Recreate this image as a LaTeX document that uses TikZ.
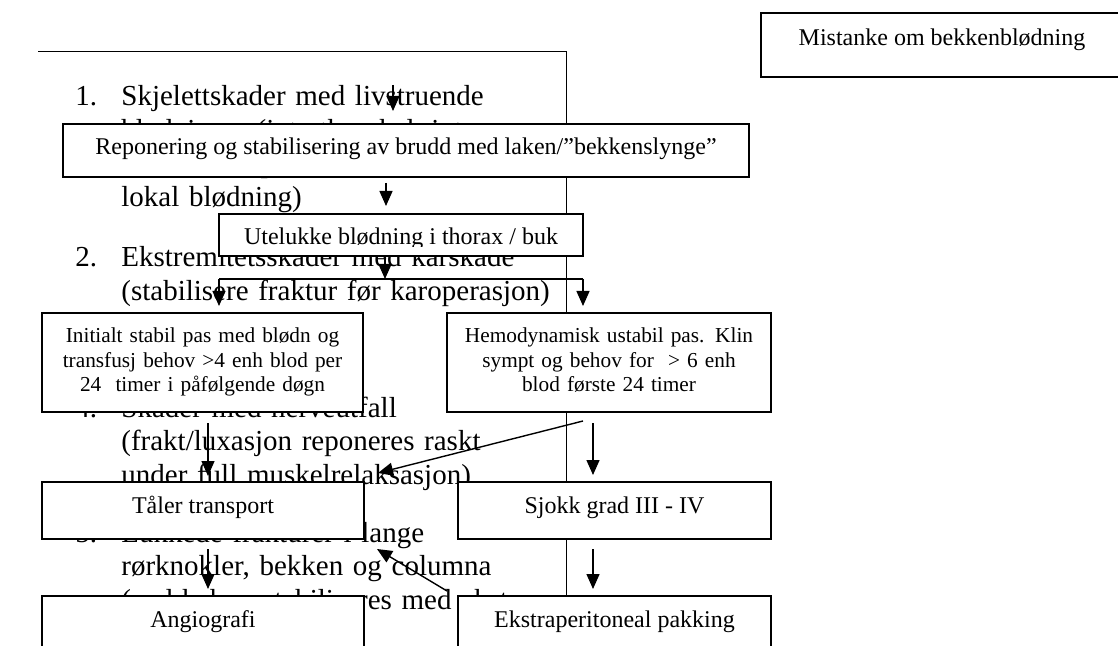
\documentclass[tikz,border=0pt]{standalone}
\usepackage{fontspec}
\setmainfont{Liberation Serif}
\usetikzlibrary{arrows.meta}

\begin{document}
\begin{tikzpicture}[
    % one unit is one pixel of the page
    x=0.5pt, y=-0.5pt,
    % type of arrow head
    >={Triangle[width=6.5pt, length=7.5pt]},
    box/.style = {draw=black, line width=1pt, fill=white, inner sep=0pt},
    boxtext/.style = {anchor=base, inner sep=0pt, font=\fontsize{12}{12}\selectfont},
    smalltext/.style = {anchor=base, inner sep=0pt, text width=160pt, align=center,
        font=\fontsize{10.65}{12.15}\selectfont},
    listtext/.style = {anchor=base west, inner sep=0pt, font=\fontsize{14.5}{16.75}\selectfont},
    line/.style = {->, draw=black, line width=0.7pt},
    rule/.style = {draw=black, line width=0.5pt}
    ]

    \clip (0,0) rectangle (1118,646);

    % list behind the chart
    \draw[rule] (38,52) -- (566,52) -- (566,660);

    \node (n1) [listtext] at (75,106) {1.};
    \node (t1) [listtext, text width=250pt, align=left] at (121,106)
        {Skjelettskader med livstruende\\blødninger (intrathorakal, intra-\\abdominal, pelvin eller\\lokal blødning)};
    \node (n2) [listtext] at (75,267) {2.};
    \node (t2) [listtext, text width=250pt, align=left] at (121,267)
        {Ekstremitetsskader med karskade\\(stabilisere fraktur før karoperasjon)};
    \node (n4) [listtext] at (75,417) {4.};
    \node (t4) [listtext, text width=250pt, align=left] at (121,417)
        {Skader med nerveutfall\\(frakt/luxasjon reponeres raskt\\under full muskelrelaksasjon)};
    \node (n5) [listtext] at (75,542) {5.};
    \node (t5) [listtext, text width=250pt, align=left] at (121,542)
        {Lukkede frakturer i lange\\rørknokler, bekken og columna\\(ved behov stabiliseres med ekstern};

    % boxes
    \node (mist)   [box, minimum width=189.5pt, minimum height=32pt]   at (950.5,45)    {};
    \node (repon)  [box, minimum width=343pt,   minimum height=26.5pt] at (406,150.5)   {};
    \node (utel)   [box, minimum width=182pt,   minimum height=21pt]   at (401,235)     {};
    \node (init)   [box, minimum width=160.5pt, minimum height=49.5pt] at (202.5,362.5) {};
    \node (hemo)   [box, minimum width=162pt,   minimum height=49.5pt] at (609,362.5)   {};
    \node (taler)  [box, minimum width=161pt,   minimum height=28.5pt] at (203,510.5)   {};
    \node (sjokk)  [box, minimum width=156.5pt, minimum height=28.5pt] at (614.5,510.5) {};
    \node (angio)  [box, minimum width=161pt,   minimum height=32pt]   at (203,628)     {};
    \node (ekstra) [box, minimum width=156.5pt, minimum height=32pt]   at (614.5,628)   {};

    % box texts
    \node (mistT)  [boxtext] at (942,46) {Mistanke om bekkenblødning};
    \node (reponT) [boxtext] at ([yshift=-16pt]repon.north) {Reponering og stabilisering av brudd med laken/”bekkenslynge”};
    \begin{scope}
        \clip (219,214) rectangle (583,247);
        \node (utelT) [boxtext] at ([yshift=-16pt]utel.north) {Utelukke blødning i thorax / buk};
    \end{scope}
    \node (initT)  [smalltext] at (202.5,343)
        {Initialt stabil pas med blødn og\\transfusj behov >4 enh blod per\\24 \ timer i påfølgende døgn};
    \node (hemoT)  [smalltext] at (609,343)
        {Hemodynamisk ustabil pas. Klin\\sympt og behov for \ > 6 enh\\blod første 24 timer};
    \node (talerT)  [boxtext] at ([yshift=-16pt]taler.north)  {Tåler transport};
    \node (sjokkT)  [boxtext] at ([yshift=-16pt]sjokk.north)  {Sjokk grad III - IV};
    \node (angioT)  [boxtext] at ([yshift=-16pt]angio.north)  {Angiografi};
    \node (ekstraT) [boxtext] at ([yshift=-16pt]ekstra.north) {Ekstraperitoneal pakking};

    % arrow positions
    \coordinate (top)   at (393,85);
    \coordinate (xmid)  at (386,0);
    \coordinate (split) at (385,279);
    \coordinate (bl)    at (219,279);
    \coordinate (br)    at (583,279);
    \coordinate (xl)    at (208,0);
    \coordinate (xr)    at (593,0);
    \coordinate (d0)    at (583,421);
    \coordinate (d1)    at (378,473);
    \coordinate (e0)    at (447,591);
    \coordinate (e1)    at (377,549);

    % edges
    \path[line, shorten >=6pt] (top) -- (top |- repon.north);
    \path[line, shorten <=2.5pt, shorten >=3.5pt] (xmid |- repon.south) -- (xmid |- utel.north);
    \path[line] (split |- utel.south) -- (split);
    \draw[line width=0.6pt] (bl) -- (br);
    \path[line, shorten >=3pt] (bl) -- (bl |- init.north);
    \path[line, shorten >=3pt] (br) -- (br |- hemo.north);
    \path[line, shorten <=5pt, shorten >=2.5pt] (xl |- init.south) -- (xl |- taler.north);
    \path[line, shorten <=5pt, shorten >=3pt] (xr |- hemo.south) -- (xr |- sjokk.north);
    \path[line] (d0) -- (d1);
    \path[line, shorten <=4.5pt, shorten >=3pt] (xl |- taler.south) -- (xl |- angio.north);
    \path[line, shorten <=4.5pt, shorten >=3pt] (xr |- sjokk.south) -- (xr |- ekstra.north);
    \path[line] (e0) -- (e1);
\end{tikzpicture}
\end{document}
